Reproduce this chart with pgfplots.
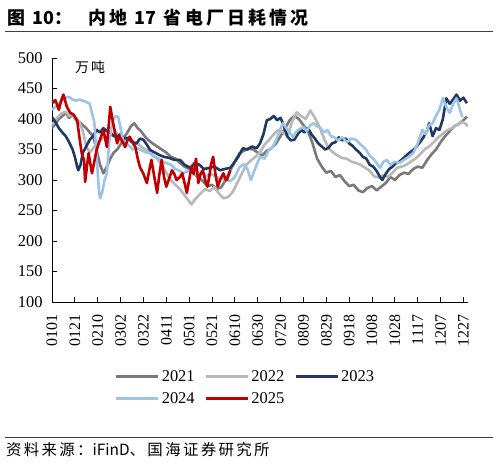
\documentclass[border=0pt]{standalone}
\usepackage{fontspec}
\setmainfont{Liberation Serif}
\newfontfamily\cjk{Noto Sans CJK SC}
\usepackage{pgfplots}
\pgfplotsset{compat=1.18}
\definecolor{c21}{HTML}{7A7878}
\definecolor{c22}{HTML}{B8B8B8}
\definecolor{c23}{HTML}{1F3864}
\definecolor{c24}{HTML}{9DC3E6}
\definecolor{c25}{HTML}{C00000}
\begin{document}
\begin{tikzpicture}
\path[use as bounding box] (0bp,0bp) rectangle (499bp,-464bp);
\node[anchor=base west, inner sep=0] at (7bp,-24bp) {\cjk\bfseries\fontsize{18}{20}\selectfont\addfontfeature{LetterSpace=18}图 {\addfontfeature{LetterSpace=0}10}：\hspace{0.9em}内地 {\addfontfeature{LetterSpace=0}17} 省电厂日耗情况};
\draw[line width=1bp, black!75] (5bp,-31bp) -- (493bp,-31bp);
\draw[line width=1bp, black!75] (5bp,-437bp) -- (493bp,-437bp);
\node[anchor=base west, inner sep=0] at (6bp,-455bp) {\cjk\fontsize{15.5}{16}\selectfont\addfontfeature{LetterSpace=15}资料来源：{\addfontfeature{LetterSpace=0}iFinD}、国海证券研究所};
\node[anchor=center, inner sep=0] at (90bp,-67bp) {\cjk\fontsize{14}{14}\selectfont\addfontfeature{LetterSpace=15}万吨};
\begin{axis}[
  at={(52bp,-302bp)}, anchor=south west,
  scale only axis, width=416bp, height=244bp,
  xmin=0, xmax=364, ymin=100, ymax=500,
  axis lines=left, axis line style={line width=0.9bp, -},
  tick style={line width=0.9bp, black},
  major tick length=5bp, tick align=inside,
  xtick={0,20,...,360},
  xticklabels={0101,0121,0210,0302,0322,0411,0501,0521,0610,0630,0720,0809,0829,0918,1008,1028,1117,1207,1227},
  ytick={100,150,...,500},
  /pgf/number format/assume math mode=true,
  x tick label style={rotate=90, anchor=east, xshift=-9bp, font=\fontsize{16}{16}\selectfont},
  y tick label style={xshift=-6bp, font=\fontsize{16.5}{16.5}\selectfont},
  legend columns=3,
  legend cell align=left,
  legend style={draw=none, fill=none, inner sep=0pt, at={(0.151,-0.27)}, anchor=north west,
    font=\fontsize{16.5}{16.5}\selectfont, row sep=6bp,
    /tikz/every even column/.append style={column sep=8bp}},
  legend image code/.code={\draw[#1, line width=2.8bp] (0bp,0bp) -- (42bp,0bp);},
  every axis plot/.append style={line width=2.6bp, line join=round},
]
\addplot[c21] coordinates {(0,385)(3,392)(6,400)(9,405)(12,410)(15,402)(18,407)(21,398)(24,395)(27,390)(30,385)(33,378)(36,372)(39,350)(42,325)(45,311)(48,322)(51,335)(54,345)(57,350)(60,358)(63,370)(66,378)(69,388)(72,393)(75,385)(78,380)(81,372)(84,366)(88,360)(92,355)(96,350)(100,345)(104,338)(108,335)(112,328)(116,322)(120,318)(124,310)(128,305)(132,298)(136,290)(140,292)(144,285)(148,288)(152,300)(156,316)(160,330)(164,344)(168,348)(172,352)(176,350)(180,345)(184,340)(188,348)(192,352)(196,360)(200,372)(204,385)(208,398)(212,405)(216,400)(220,390)(224,380)(228,360)(232,335)(236,322)(240,312)(244,315)(248,305)(252,308)(256,298)(260,290)(264,292)(268,283)(272,280)(276,287)(280,290)(284,283)(288,289)(292,295)(296,305)(300,300)(304,308)(308,312)(312,310)(316,318)(320,322)(324,320)(328,332)(332,342)(336,350)(340,362)(344,372)(348,380)(352,388)(356,392)(360,398)(363,404)};
\addlegendentry{2021}
\addplot[c22] coordinates {(0,390)(3,398)(6,405)(9,410)(12,412)(15,405)(18,408)(21,400)(24,395)(27,380)(30,355)(33,345)(36,352)(40,362)(44,368)(48,372)(52,375)(56,378)(60,370)(64,365)(68,368)(72,362)(76,358)(80,352)(84,348)(88,340)(92,335)(96,325)(100,312)(104,300)(108,292)(112,285)(116,275)(120,265)(122,260)(126,270)(130,278)(134,285)(138,282)(142,288)(146,278)(150,270)(154,272)(158,280)(162,295)(166,310)(170,325)(174,332)(178,338)(182,345)(186,358)(190,366)(194,375)(198,382)(202,378)(206,372)(210,395)(214,411)(218,405)(222,400)(226,414)(230,402)(234,387)(238,368)(242,352)(246,345)(250,340)(254,336)(258,335)(262,330)(266,328)(270,325)(274,320)(278,315)(282,306)(286,304)(290,308)(294,305)(298,312)(302,320)(306,322)(310,325)(314,330)(318,335)(322,342)(326,350)(330,355)(334,362)(338,370)(342,376)(346,382)(350,385)(354,390)(358,396)(362,392)(364,388)};
\addlegendentry{2022}
\addplot[c23] coordinates {(0,403)(3,395)(6,385)(9,378)(12,372)(15,362)(18,350)(20,338)(22,322)(23,316)(25,325)(27,345)(30,355)(33,366)(36,372)(39,382)(42,378)(45,385)(48,380)(51,377)(54,372)(57,371)(60,375)(63,368)(66,369)(70,362)(74,360)(77,368)(80,366)(83,358)(86,349)(90,345)(94,341)(98,338)(103,336)(107,333)(112,333)(116,325)(121,320)(125,328)(129,325)(133,318)(138,320)(142,322)(147,316)(151,318)(156,320)(160,330)(163,338)(167,352)(171,350)(175,355)(179,352)(182,360)(185,375)(188,398)(191,400)(194,405)(197,398)(200,402)(203,388)(206,371)(209,365)(212,366)(215,375)(218,382)(221,378)(224,385)(227,375)(230,368)(233,360)(236,355)(239,350)(242,353)(245,360)(248,362)(251,370)(254,365)(257,368)(260,360)(263,356)(266,350)(269,345)(272,338)(275,335)(278,325)(281,322)(284,315)(287,305)(289,300)(292,310)(295,318)(298,322)(301,328)(304,330)(307,335)(310,340)(313,345)(316,349)(319,355)(322,362)(325,370)(328,380)(330,393)(333,372)(336,385)(339,382)(342,400)(345,434)(348,425)(351,432)(354,440)(357,430)(360,435)(363,426)};
\addlegendentry{2023}
\addplot[c24] coordinates {(0,415)(3,420)(6,425)(9,430)(12,435)(15,436)(18,432)(21,430)(24,432)(27,430)(30,428)(33,425)(35,410)(37,395)(39,340)(41,285)(42,270)(44,280)(46,300)(48,311)(50,360)(53,398)(56,405)(58,403)(60,385)(62,366)(65,360)(68,355)(71,350)(75,352)(79,348)(83,345)(86,344)(90,338)(94,335)(97,330)(100,328)(104,325)(108,318)(112,315)(115,311)(119,315)(123,312)(127,308)(131,312)(135,307)(139,310)(144,305)(148,302)(152,300)(156,298)(160,305)(164,321)(168,326)(171,318)(174,300)(178,320)(182,338)(186,335)(190,350)(193,354)(196,365)(199,380)(202,393)(205,385)(208,378)(211,370)(214,380)(217,384)(220,387)(223,380)(226,390)(229,393)(232,388)(235,385)(238,378)(241,382)(244,372)(247,370)(250,365)(254,370)(258,362)(262,368)(266,366)(269,360)(272,355)(275,349)(278,340)(281,335)(284,328)(287,320)(290,330)(293,333)(296,325)(300,330)(304,328)(308,333)(312,338)(316,344)(320,360)(324,382)(327,375)(330,390)(333,393)(336,405)(339,415)(342,434)(345,420)(348,410)(351,425)(354,434)(357,415)(359,403)};
\addlegendentry{2024}
\addplot[c25] coordinates {(0,426)(3,431)(6,415)(8,430)(10,440)(13,420)(16,410)(19,407)(22,398)(24,370)(26,344)(28,333)(29,297)(32,344)(35,311)(37,330)(39,349)(42,366)(45,382)(48,354)(51,420)(53,398)(57,360)(59,371)(62,362)(64,354)(66,365)(68,371)(71,360)(73,354)(75,335)(77,321)(80,310)(83,295)(85,315)(87,333)(90,300)(92,279)(94,310)(96,333)(98,305)(100,289)(103,305)(105,316)(107,310)(109,300)(112,305)(114,311)(116,295)(118,279)(120,300)(122,321)(124,310)(126,335)(128,295)(130,310)(132,316)(134,300)(136,289)(138,310)(139,325)(141,338)(143,310)(145,289)(147,300)(150,311)(152,300)(153,300)(155,310)(156,316)};
\addlegendentry{2025}
\end{axis}
\end{tikzpicture}
\end{document}
